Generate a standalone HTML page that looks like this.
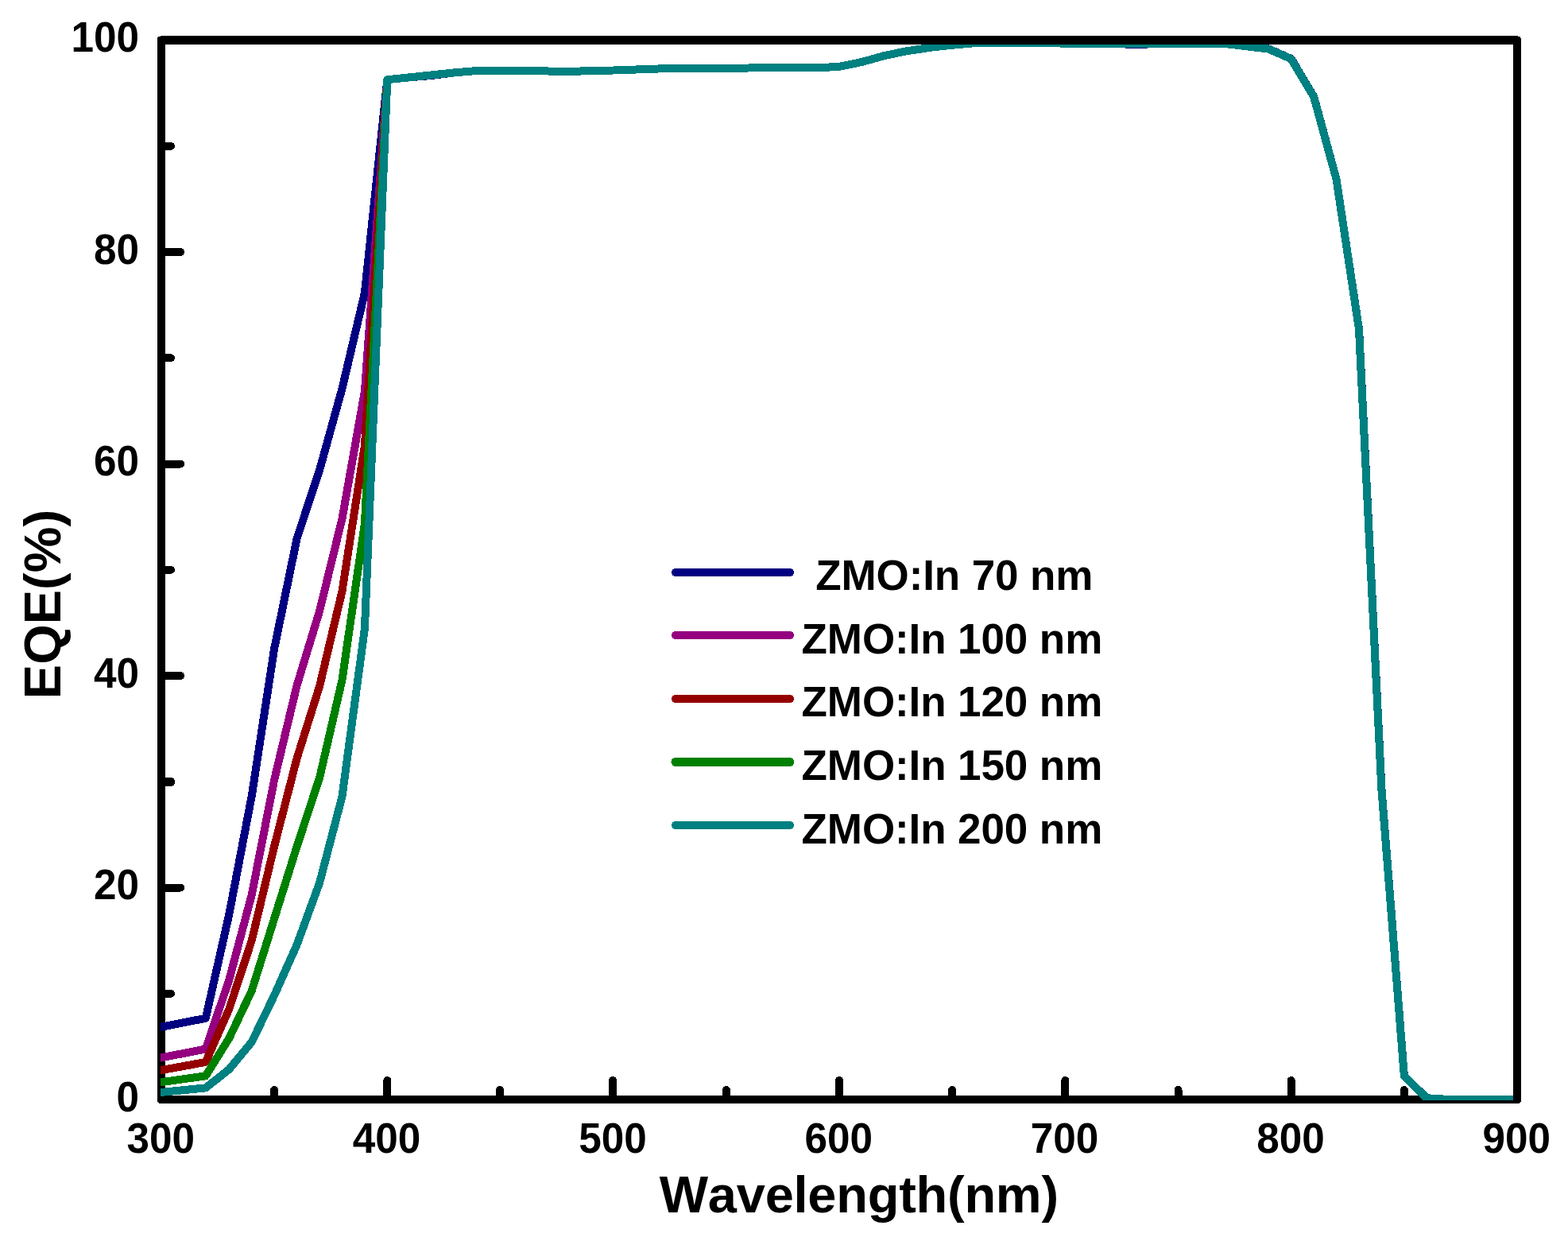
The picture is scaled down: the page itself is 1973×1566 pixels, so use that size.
<!DOCTYPE html>
<html lang="en"><head><meta charset="utf-8"><title>EQE vs Wavelength</title>
<style>
html,body{margin:0;padding:0;background:#fff;}
body{width:1973px;height:1566px;overflow:hidden;}
svg{display:block;}
text{font-family:"Liberation Sans",Arial,Helvetica,sans-serif;font-weight:bold;fill:#000;font-kerning:none;}
.tk{font-size:53px;}
.lg{font-size:53px;letter-spacing:-0.1px;}
.ax{font-size:65px;}
</style></head><body>
<svg width="1973" height="1566" viewBox="0 0 1973 1566" role="img" aria-label="EQE versus wavelength for ZMO:In films of different thickness">
<rect x="0" y="0" width="1973" height="1566" fill="#fff"/>
<defs><clipPath id="plot"><rect x="202" y="40" width="1707" height="1344"/></clipPath></defs>
<g shape-rendering="crispEdges" fill="#000">
<path d="M202 45H1910V46H1913V48H1914V1386H1913V1387H1912V1388H200V1387H199V1386H198V47H199V46H202Z M208 56V1378H1904V56Z" fill-rule="evenodd"/>
</g>
<g stroke="#000" stroke-width="10" stroke-linecap="round" fill="none" shape-rendering="crispEdges">
<line x1="206" y1="1249.75" x2="215" y2="1249.75"/>
<line x1="206" y1="1116.50" x2="227" y2="1116.50"/>
<line x1="206" y1="983.50" x2="215" y2="983.50" stroke-width="11"/>
<line x1="206" y1="850.00" x2="227" y2="850.00"/>
<line x1="206" y1="716.75" x2="215" y2="716.75"/>
<line x1="206" y1="583.50" x2="227" y2="583.50"/>
<line x1="206" y1="450.25" x2="215" y2="450.25"/>
<line x1="206" y1="317.00" x2="227" y2="317.00"/>
<line x1="206" y1="183.75" x2="215" y2="183.75"/>
<line x1="345.17" y1="1380" x2="345.17" y2="1371"/>
<line x1="487.33" y1="1380" x2="487.33" y2="1359"/>
<line x1="629.00" y1="1380" x2="629.00" y2="1371"/>
<line x1="771.00" y1="1380" x2="771.00" y2="1359"/>
<line x1="913.83" y1="1380" x2="913.83" y2="1371"/>
<line x1="1056.00" y1="1380" x2="1056.00" y2="1359"/>
<line x1="1198.17" y1="1380" x2="1198.17" y2="1371"/>
<line x1="1340.33" y1="1380" x2="1340.33" y2="1359"/>
<line x1="1482.50" y1="1380" x2="1482.50" y2="1371"/>
<line x1="1624.67" y1="1380" x2="1624.67" y2="1359"/>
<line x1="1766.83" y1="1380" x2="1766.83" y2="1371"/>
</g>
<g clip-path="url(#plot)" fill="none" stroke-width="10" stroke-linejoin="round" stroke-linecap="butt" shape-rendering="crispEdges">
<polyline stroke="#000080" points="195.00,1293.26 203.00,1291.70 258.80,1280.80 288.30,1150.10 316.73,1001.30 345.17,815.60 373.60,677.30 402.03,591.40 430.47,488.90 458.90,368.30 487.33,100.20 515.77,97.30 544.20,94.85 572.63,91.30 601.07,88.90 629.50,89.20 657.93,89.20 686.37,89.45 714.80,89.90 743.23,89.20 771.67,88.50 800.10,87.50 828.53,86.50 856.97,86.00 885.40,86.00 913.83,86.00 942.27,85.50 970.70,85.20 999.13,85.10 1027.57,85.40 1056.00,83.80 1084.43,78.00 1112.87,70.00 1141.30,64.20 1169.73,59.90 1198.17,56.70 1226.60,54.20 1255.03,54.00 1283.47,54.00 1311.90,54.00 1340.33,54.65 1368.77,54.90 1397.20,54.90 1425.63,55.80 1454.07,55.35 1482.50,54.90 1510.93,54.90 1539.37,54.75 1567.80,58.20 1596.33,61.45 1624.82,74.00 1653.22,121.65 1681.53,225.50 1710.05,414.00 1738.48,993.00 1766.88,1353.20 1795.27,1381.20 1823.70,1383.00 1852.13,1383.00 1880.57,1383.00 1909.00,1383.00"/>
<polyline stroke="#940080" points="195.00,1331.96 203.00,1330.40 258.80,1319.50 288.30,1232.60 316.73,1125.50 345.17,980.70 373.60,862.10 402.03,768.80 430.47,652.60 458.90,492.20 487.33,100.20 515.77,97.30 544.20,94.30"/>
<polyline stroke="#940000" points="195.00,1347.56 203.00,1346.10 258.80,1335.90 288.30,1269.20 316.73,1182.90 345.17,1064.30 373.60,953.80 402.03,863.40 430.47,743.70 458.90,560.50 487.33,100.20 515.77,97.30 544.20,94.30"/>
<polyline stroke="#008000" points="195.00,1362.33 203.00,1361.20 258.80,1353.30 288.30,1306.00 316.73,1246.20 345.17,1155.30 373.60,1064.70 402.03,978.50 430.47,855.40 458.90,658.90 487.33,100.20 515.77,97.30 544.20,94.30"/>
<polyline stroke="#008080" points="195.00,1374.69 203.00,1373.90 258.80,1368.40 288.30,1345.00 316.73,1310.70 345.17,1251.90 373.60,1188.30 402.03,1110.70 430.47,1002.00 458.90,790.90 487.33,100.20 515.77,97.30 544.20,94.30 572.63,91.30 601.07,88.90 629.50,89.20 657.93,89.20 686.37,89.45 714.80,89.90 743.23,89.20 771.67,88.50 800.10,87.50 828.53,86.50 856.97,86.00 885.40,86.00 913.83,86.00 942.27,85.50 970.70,85.20 999.13,85.10 1027.57,85.40 1056.00,83.80 1084.43,78.00 1112.87,70.00 1141.30,64.20 1169.73,59.90 1198.17,56.70 1226.60,54.20 1255.03,54.00 1283.47,54.00 1311.90,54.00 1340.33,54.65 1368.77,54.90 1397.20,54.90 1425.63,54.90 1454.07,54.90 1482.50,54.90 1510.93,54.90 1539.37,54.75 1567.80,58.20 1596.23,61.60 1624.67,74.20 1653.10,121.70 1681.53,225.50 1709.97,414.00 1738.40,993.00 1766.83,1353.20 1795.27,1381.20 1823.70,1383.00 1852.13,1383.00 1880.57,1383.00 1909.00,1383.00"/>
</g>
<g shape-rendering="crispEdges" fill="#000">
<path d="M202 45H1910V46H1913V48H1914V1386H1913V1387H1912V1388H1904V56H198V47H199V46H202Z"/>
</g>
<text class="tk" transform="translate(175 1397.8) scale(0.967 1)" text-anchor="end">0</text>
<text class="tk" transform="translate(175 1131.3) scale(0.967 1)" text-anchor="end">20</text>
<text class="tk" transform="translate(175 864.8) scale(0.967 1)" text-anchor="end">40</text>
<text class="tk" transform="translate(175 598.3) scale(0.967 1)" text-anchor="end">60</text>
<text class="tk" transform="translate(175 331.8) scale(0.967 1)" text-anchor="end">80</text>
<text class="tk" transform="translate(175 65.3) scale(0.967 1)" text-anchor="end">100</text>
<text class="tk" transform="translate(202.2 1450.1) scale(0.967 1)" text-anchor="middle">300</text>
<text class="tk" transform="translate(486.5 1450.1) scale(0.967 1)" text-anchor="middle">400</text>
<text class="tk" transform="translate(770.9 1450.1) scale(0.967 1)" text-anchor="middle">500</text>
<text class="tk" transform="translate(1055.2 1450.1) scale(0.967 1)" text-anchor="middle">600</text>
<text class="tk" transform="translate(1339.5 1450.1) scale(0.967 1)" text-anchor="middle">700</text>
<text class="tk" transform="translate(1623.9 1450.1) scale(0.967 1)" text-anchor="middle">800</text>
<text class="tk" transform="translate(1908.2 1450.1) scale(0.967 1)" text-anchor="middle">900</text>
<text class="ax" x="1331.8" y="1524.6" text-anchor="end" style="letter-spacing:-0.25px">Wavelength(nm)</text>
<text class="ax" transform="translate(76 760) rotate(-90)" text-anchor="middle">EQE(%)</text>
<g stroke-width="10" stroke-linecap="round" fill="none" shape-rendering="crispEdges">
<line stroke="#000080" x1="850" y1="720.0" x2="994" y2="720.0"/>
<line stroke="#940080" x1="850" y1="799.0" x2="994" y2="799.0"/>
<line stroke="#940000" x1="850" y1="879.0" x2="994" y2="879.0"/>
<line stroke="#008000" x1="850" y1="958.5" x2="994" y2="958.5" stroke-width="11"/>
<line stroke="#008080" x1="850" y1="1038.0" x2="994" y2="1038.0"/>
</g>
<text class="lg" x="1026.2" y="742.3">ZMO:In 70 nm</text>
<text class="lg" x="1008.6" y="822.0">ZMO:In 100 nm</text>
<text class="lg" x="1008.6" y="901.3">ZMO:In 120 nm</text>
<text class="lg" x="1008.6" y="981.2">ZMO:In 150 nm</text>
<text class="lg" x="1008.6" y="1061.2">ZMO:In 200 nm</text>
</svg>
</body></html>
